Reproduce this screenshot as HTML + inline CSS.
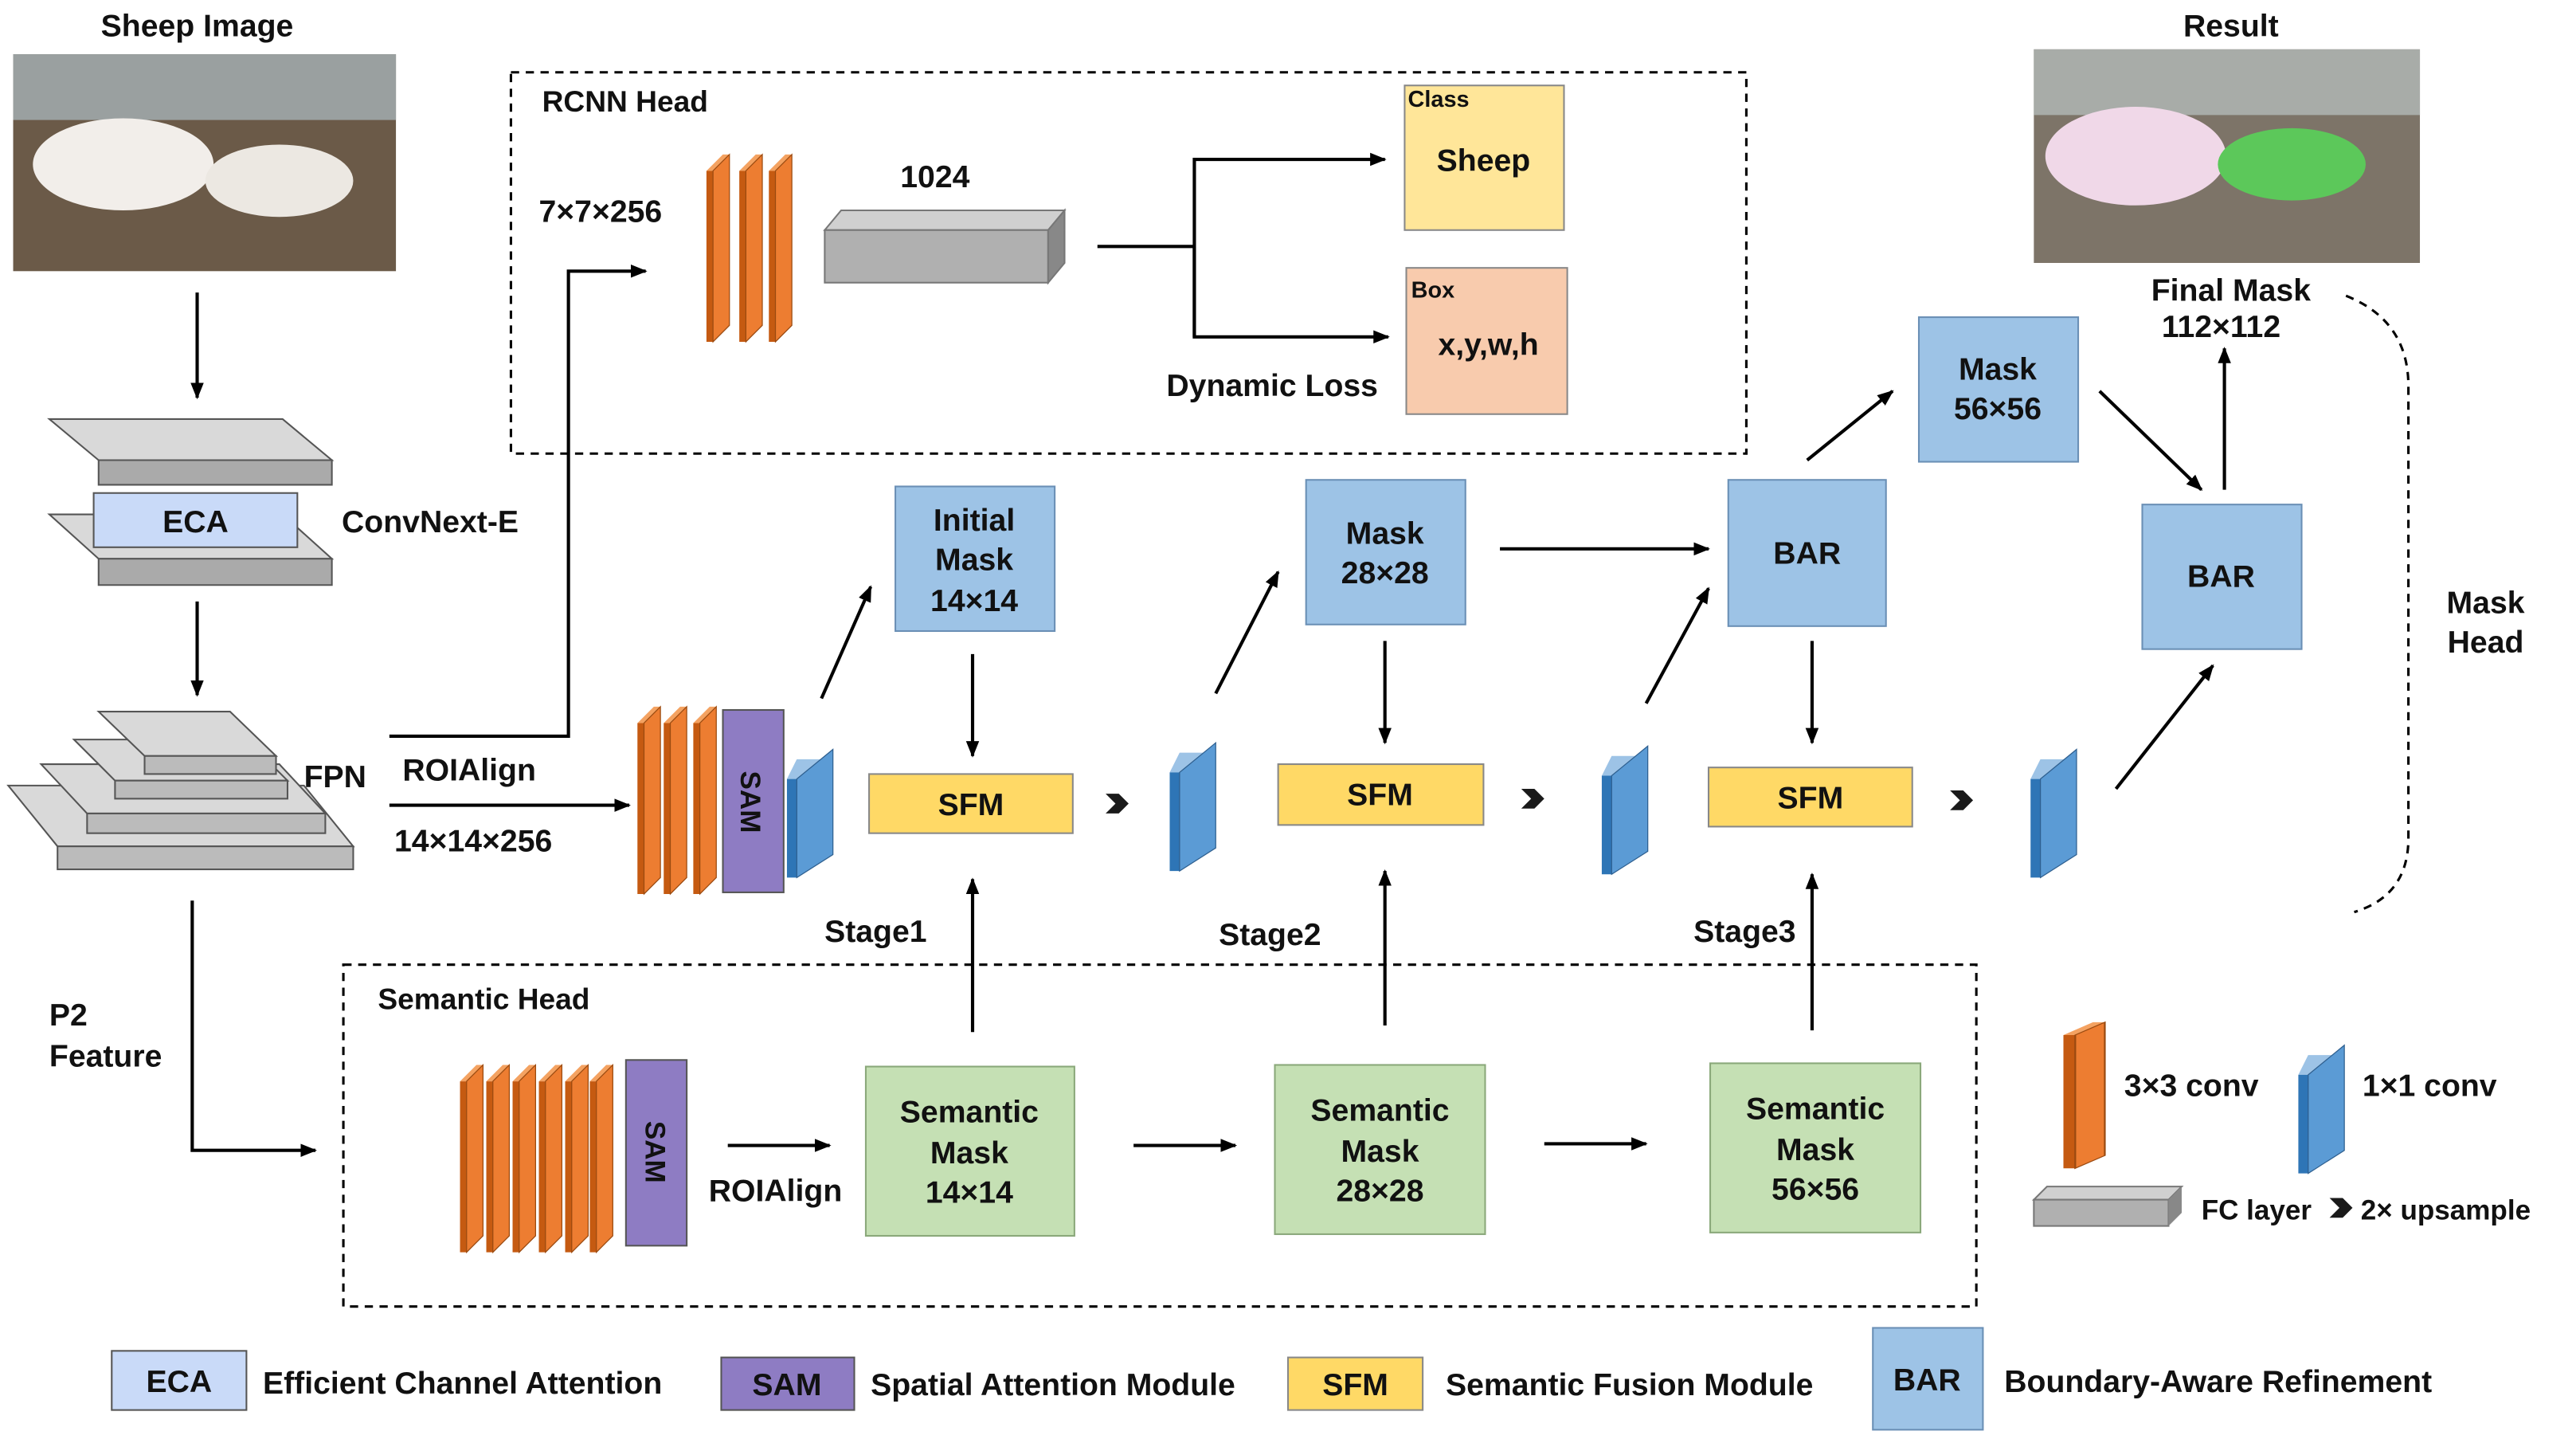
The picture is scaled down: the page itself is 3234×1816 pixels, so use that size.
<!DOCTYPE html>
<html><head><meta charset="utf-8"><style>
html,body{margin:0;padding:0;background:#fff;}
svg{display:block;}
text{font-family:"Liberation Sans",Arial,sans-serif;font-weight:bold;fill:#111;}
</style></head><body>
<svg width="3234" height="1816" viewBox="0 0 1568 880.5" xmlns="http://www.w3.org/2000/svg">
<defs>
<marker id="ar" markerWidth="10" markerHeight="10" refX="9" refY="5" orient="auto" markerUnits="userSpaceOnUse"><path d="M0,1 L10,5 L0,9 z" fill="#000"/></marker>
<g id="oc"><polygon points="0,10 10,0 14,0 4,10" fill="#F4A261"/><polygon points="0,10 4,10 4,114 0,114" fill="#C55A11"/><polygon points="4,10 14,0 14,104 4,114" fill="#ED7D31" stroke="#9a4a10" stroke-width="0.6"/></g>
<g id="bc"><polygon points="0,12 6,0 28,0 22,12" fill="#9DC3E6"/><polygon points="0,12 6,12 6,72 0,72" fill="#2E75B6"/><polygon points="6,12 28,-6 28,58 6,72" fill="#5B9BD5" stroke="#2e5f8f" stroke-width="0.6"/></g>
<g id="chev"><path d="M0,0 L8,0 L14,6 L8,12 L0,12 L6,6 z" fill="#1a1a1a"/></g>
</defs>
<g stroke="#000" stroke-width="2" fill="none">
<rect x="311" y="44" width="752" height="232" stroke-dasharray="5,4" stroke-width="1.5"/>
<rect x="209" y="587" width="994" height="208" stroke-dasharray="5,4" stroke-width="1.5"/>
<path d="M1428,180 Q1466,195 1466,235 L1466,510 Q1466,545 1433,555" stroke-dasharray="5,4" stroke-width="1.5"/>
<line x1="120" y1="178" x2="120" y2="242" marker-end="url(#ar)"/>
<line x1="120" y1="366" x2="120" y2="423" marker-end="url(#ar)"/>
<polyline points="237,448 346,448 346,165 393,165" marker-end="url(#ar)"/>
<line x1="237" y1="490" x2="383" y2="490" marker-end="url(#ar)"/>
<line x1="668" y1="150" x2="727" y2="150"/>
<polyline points="727,205 727,97 843,97" marker-end="url(#ar)"/>
<polyline points="727,150 727,205 845,205" marker-end="url(#ar)"/>
<line x1="500" y1="425" x2="530" y2="357" marker-end="url(#ar)"/>
<line x1="592" y1="398" x2="592" y2="460" marker-end="url(#ar)"/>
<line x1="740" y1="422" x2="778" y2="348" marker-end="url(#ar)"/>
<line x1="843" y1="390" x2="843" y2="452" marker-end="url(#ar)"/>
<line x1="1002" y1="428" x2="1040" y2="358" marker-end="url(#ar)"/>
<line x1="913" y1="334" x2="1040" y2="334" marker-end="url(#ar)"/>
<line x1="1103" y1="390" x2="1103" y2="452" marker-end="url(#ar)"/>
<line x1="1288" y1="480" x2="1347" y2="405" marker-end="url(#ar)"/>
<line x1="1100" y1="280" x2="1152" y2="238" marker-end="url(#ar)"/>
<line x1="1278" y1="238" x2="1340" y2="298" marker-end="url(#ar)"/>
<line x1="1354" y1="298" x2="1354" y2="212" marker-end="url(#ar)"/>
<line x1="592" y1="628" x2="592" y2="535" marker-end="url(#ar)"/>
<line x1="843" y1="624" x2="843" y2="530" marker-end="url(#ar)"/>
<line x1="1103" y1="627" x2="1103" y2="532" marker-end="url(#ar)"/>
<line x1="443" y1="697" x2="505" y2="697" marker-end="url(#ar)"/>
<line x1="690" y1="697" x2="752" y2="697" marker-end="url(#ar)"/>
<line x1="940" y1="696" x2="1002" y2="696" marker-end="url(#ar)"/>
<polyline points="117,548 117,700 192,700" marker-end="url(#ar)"/>
</g>
<rect x="8" y="33" width="233" height="132" fill="#6b5a48"/>
<rect x="8" y="33" width="233" height="40" fill="#9aa0a0"/>
<ellipse cx="75" cy="100" rx="55" ry="28" fill="#f2eeea"/><ellipse cx="170" cy="110" rx="45" ry="22" fill="#ece8e2"/>
<rect x="1238" y="30" width="235" height="130" fill="#7d7468"/>
<rect x="1238" y="30" width="235" height="40" fill="#a8aca8"/>
<ellipse cx="1300" cy="95" rx="55" ry="30" fill="#f0d8e8"/><ellipse cx="1395" cy="100" rx="45" ry="22" fill="#5cc85a"/>
<polygon points="30,255 172,255 202,280 60,280" fill="#d9d9d9" stroke="#555"/><polygon points="60,280 202,280 202,295 60,295" fill="#aaa" stroke="#555"/>
<polygon points="30,313 172,313 202,340 60,340" fill="#d9d9d9" stroke="#555"/><polygon points="60,340 202,340 202,356 60,356" fill="#aaa" stroke="#555"/>
<rect x="57" y="300" width="124" height="33" fill="#C9DAF8" stroke="#555"/>
<polygon points="5,478 185,478 215,515 35,515" fill="#d9d9d9" stroke="#555"/><rect x="35" y="515" width="180" height="14" fill="#bbb" stroke="#555"/>
<polygon points="25,465 170,465 198,495 53,495" fill="#d9d9d9" stroke="#555"/><rect x="53" y="495" width="145" height="12" fill="#bbb" stroke="#555"/>
<polygon points="45,450 150,450 175,475 70,475" fill="#d9d9d9" stroke="#555"/><rect x="70" y="475" width="105" height="11" fill="#bbb" stroke="#555"/>
<polygon points="60,433 140,433 168,460 88,460" fill="#d9d9d9" stroke="#555"/><rect x="88" y="460" width="80" height="11" fill="#bbb" stroke="#555"/>
<use href="#oc" x="430" y="94"/><use href="#oc" x="450" y="94"/><use href="#oc" x="468" y="94"/>
<polygon points="502,140 512,128 648,128 638,140" fill="#d0d0d0" stroke="#777"/><rect x="502" y="140" width="136" height="32" fill="#b0b0b0" stroke="#777"/><polygon points="638,140 648,128 648,160 638,172" fill="#888" stroke="#777"/>
<rect x="855" y="52" width="97" height="88" fill="#FFE699" stroke="#888"/>
<rect x="856" y="163" width="98" height="89" fill="#F8CBAD" stroke="#888"/>
<use href="#oc" x="388" y="430"/><use href="#oc" x="404" y="430"/><use href="#oc" x="422" y="430"/>
<rect x="440" y="432" width="37" height="111" fill="#8E7CC3" stroke="#555"/>
<use href="#bc" x="479" y="462"/>
<use href="#bc" x="712" y="458"/><use href="#bc" x="975" y="460"/><use href="#bc" x="1236" y="462"/>
<g stroke="#6a8fb5" stroke-width="1" fill="#9DC3E6">
<rect x="545" y="296" width="97" height="88"/><rect x="795" y="292" width="97" height="88"/>
<rect x="1052" y="292" width="96" height="89"/><rect x="1304" y="307" width="97" height="88"/>
<rect x="1168" y="193" width="97" height="88"/>
</g>
<g stroke="#888" stroke-width="1" fill="#FFD966">
<rect x="529" y="471" width="124" height="36"/><rect x="778" y="465" width="125" height="37"/><rect x="1040" y="467" width="124" height="36"/>
</g>
<use href="#chev" x="673" y="483"/><use href="#chev" x="926" y="480"/><use href="#chev" x="1187" y="481"/>
<use href="#oc" x="280" y="648"/><use href="#oc" x="296" y="648"/><use href="#oc" x="312" y="648"/><use href="#oc" x="328" y="648"/><use href="#oc" x="344" y="648"/><use href="#oc" x="359" y="648"/>
<rect x="381" y="645" width="37" height="113" fill="#8E7CC3" stroke="#555"/>
<g stroke="#8aa87a" fill="#C5E0B4"><rect x="527" y="649" width="127" height="103"/><rect x="776" y="648" width="128" height="103"/><rect x="1041" y="647" width="128" height="103"/></g>
<g transform="translate(1256,622) scale(1.8,0.78)"><use href="#oc"/></g>
<use href="#bc" x="1399" y="642"/>
<polygon points="1238,730 1246,722 1328,722 1320,730" fill="#d0d0d0" stroke="#777"/><rect x="1238" y="730" width="82" height="16" fill="#b0b0b0" stroke="#777"/><polygon points="1320,730 1328,722 1328,738 1320,746" fill="#888"/>
<use href="#chev" x="1418" y="729"/>
<rect x="68" y="822" width="82" height="36" fill="#C9DAF8" stroke="#555"/>
<rect x="439" y="826" width="81" height="32" fill="#8E7CC3" stroke="#555"/>
<rect x="784" y="826" width="82" height="32" fill="#FFD966" stroke="#888"/>
<rect x="1140" y="808" width="67" height="62" fill="#9DC3E6" stroke="#6a8fb5"/>
<g font-size="19">
<text x="120" y="22" text-anchor="middle">Sheep Image</text>
<text x="1358" y="22" text-anchor="middle">Result</text>
<text x="119" y="324" text-anchor="middle">ECA</text>
<text x="208" y="324">ConvNext-E</text>
<text x="185" y="479">FPN</text>
<text x="245" y="475">ROIAlign</text>
<text x="240" y="518">14×14×256</text>
<text x="330" y="68" font-size="18">RCNN Head</text>
<text x="328" y="135">7×7×256</text>
<text x="548" y="114">1024</text>
<text x="857" y="65" font-size="14">Class</text>
<text x="903" y="104" text-anchor="middle">Sheep</text>
<text x="859" y="181" font-size="14">Box</text>
<text x="906" y="216" text-anchor="middle">x,y,w,h</text>
<text x="710" y="241">Dynamic Loss</text>
<text x="1358" y="183" text-anchor="middle">Final Mask</text>
<text x="1352" y="205" text-anchor="middle">112×112</text>
<text x="1513" y="373" text-anchor="middle">Mask</text>
<text x="1513" y="397" text-anchor="middle">Head</text>
<text x="593" y="323" text-anchor="middle">Initial</text><text x="593" y="347" text-anchor="middle">Mask</text><text x="593" y="372" text-anchor="middle">14×14</text>
<text x="843" y="331" text-anchor="middle">Mask</text><text x="843" y="355" text-anchor="middle">28×28</text>
<text x="1100" y="343" text-anchor="middle">BAR</text>
<text x="1352" y="357" text-anchor="middle">BAR</text>
<text x="1216" y="231" text-anchor="middle">Mask</text><text x="1216" y="255" text-anchor="middle">56×56</text>
<text x="591" y="496" text-anchor="middle">SFM</text><text x="840" y="490" text-anchor="middle">SFM</text><text x="1102" y="492" text-anchor="middle">SFM</text>
<text x="533" y="573" text-anchor="middle">Stage1</text><text x="773" y="575" text-anchor="middle">Stage2</text><text x="1062" y="573" text-anchor="middle">Stage3</text>
<text x="230" y="614" font-size="18">Semantic Head</text>
<text x="30" y="624">P2</text><text x="30" y="649">Feature</text>
<text x="472" y="731" text-anchor="middle">ROIAlign</text>
<text x="590" y="683" text-anchor="middle">Semantic</text><text x="590" y="708" text-anchor="middle">Mask</text><text x="590" y="732" text-anchor="middle">14×14</text>
<text x="840" y="682" text-anchor="middle">Semantic</text><text x="840" y="707" text-anchor="middle">Mask</text><text x="840" y="731" text-anchor="middle">28×28</text>
<text x="1105" y="681" text-anchor="middle">Semantic</text><text x="1105" y="706" text-anchor="middle">Mask</text><text x="1105" y="730" text-anchor="middle">56×56</text>
<text x="1293" y="667">3×3 conv</text><text x="1438" y="667">1×1 conv</text>
<text x="1340" y="742" font-size="17">FC layer</text><text x="1437" y="742" font-size="17">2× upsample</text>
<text x="109" y="847" text-anchor="middle">ECA</text><text x="160" y="848">Efficient Channel Attention</text>
<text x="479" y="849" text-anchor="middle">SAM</text><text x="530" y="849">Spatial Attention Module</text>
<text x="825" y="849" text-anchor="middle">SFM</text><text x="880" y="849">Semantic Fusion Module</text>
<text x="1173" y="846" text-anchor="middle">BAR</text><text x="1220" y="847">Boundary-Aware Refinement</text>
<text transform="translate(451,488) rotate(90)" text-anchor="middle" font-size="17">SAM</text>
<text transform="translate(393,701) rotate(90)" text-anchor="middle" font-size="17">SAM</text>
</g>
</svg>
</body></html>
